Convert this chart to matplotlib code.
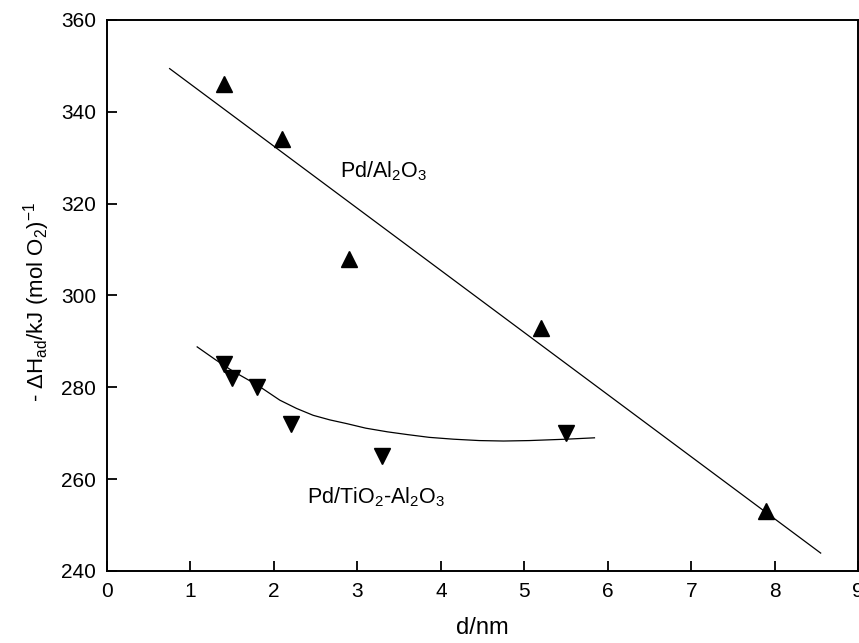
import matplotlib
matplotlib.use("Agg")
import matplotlib.pyplot as plt

plt.rcParams['font.family'] = ['Liberation Sans', 'DejaVu Sans']
plt.rcParams['mathtext.fontset'] = 'custom'
plt.rcParams['mathtext.rm'] = 'Liberation Sans'
plt.rcParams['mathtext.default'] = 'regular'

# Pd/Al2O3 (up triangles) and its straight fit line
al_d = [1.4, 2.1, 2.9, 5.2, 7.9]
al_h = [346, 334, 308, 293, 253]
al_fit_d = [0.75, 8.55]
al_fit_h = [349.4, 243.9]

# Pd/TiO2-Al2O3 (down triangles) and its curved fit
ti_d = [1.4, 1.5, 1.8, 2.2, 3.3, 5.5]
ti_h = [285, 282, 280, 272, 265, 270]
ti_fit_d = [1.08, 1.3, 1.5, 1.8, 2.07, 2.27, 2.47, 2.67, 2.87, 3.1, 3.36, 3.6, 3.86,
            4.15, 4.46, 4.75, 5.06, 5.5, 5.84]
ti_fit_h = [288.8, 286.0, 283.6, 280.5, 277.2, 275.4, 273.9, 272.9, 272.1, 271.1, 270.3,
            269.7, 269.1, 268.7, 268.4, 268.3, 268.4, 268.7, 269.0]

fig = plt.figure(figsize=(8.59, 6.43), dpi=100)
ax = fig.add_axes([0.1246, 0.112, 0.8745, 0.857])

ax.plot(al_fit_d, al_fit_h, color='black', lw=0.9)
ax.plot(ti_fit_d, ti_fit_h, color='black', lw=0.9)
ax.plot(al_d, al_h, '^', color='black', ms=11, ls='none')
ax.plot(ti_d, ti_h, 'v', color='black', ms=11, ls='none')

ax.text(2.79, 325.8, 'Pd/Al$_2$O$_3$', fontsize=15.5, ha='left', va='baseline')
ax.text(2.39, 254.8, 'Pd/TiO$_2$-Al$_2$O$_3$', fontsize=15.5, ha='left', va='baseline')

ax.set_xlim(0, 9)
ax.set_ylim(240, 360)
ax.set_xticks(range(0, 10))
ax.set_yticks(range(240, 361, 20))
ax.tick_params(direction='in', length=7, width=1.3, labelsize=15, pad=8)
for s in ax.spines.values():
    s.set_linewidth(1.4)

ax.set_xlabel('d/nm', fontsize=17)
ax.xaxis.set_label_coords(0.5, -0.084)
ax.set_ylabel('- \u0394H$_{ad}$/kJ (mol O$_2$)$^{-1}$', fontsize=16)
ax.yaxis.set_label_coords(-0.073, 0.488)

fig.savefig('out.png', dpi=100)
